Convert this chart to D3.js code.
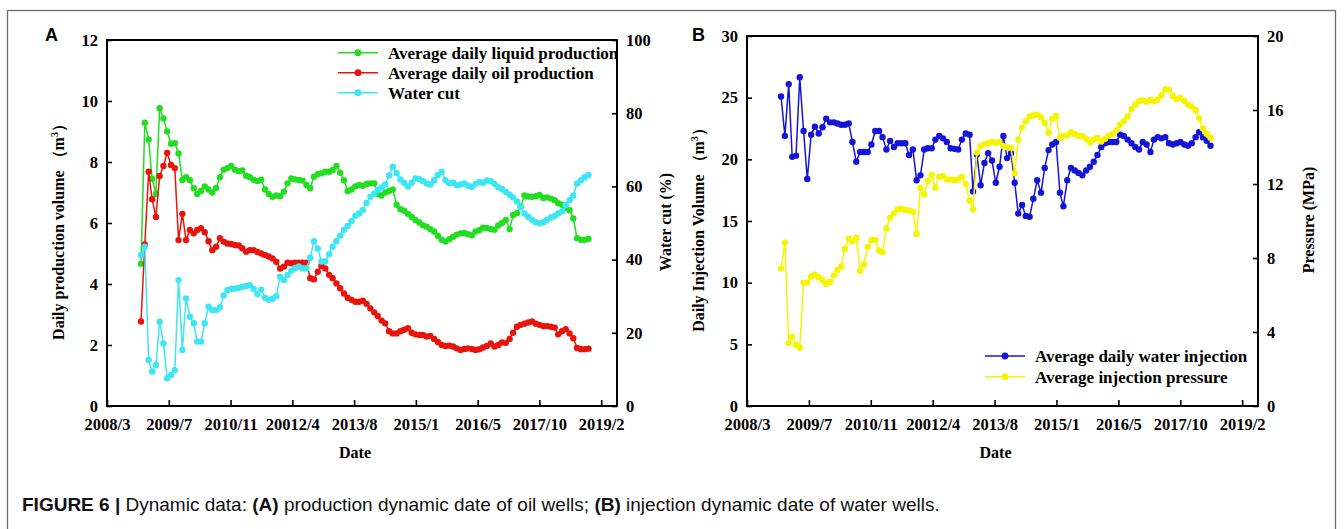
<!DOCTYPE html>
<html>
<head>
<meta charset="utf-8">
<script src="https://cdn.jsdelivr.net/npm/d3@7"></script>
<style>
  html, body { margin: 0; padding: 0; background: #fff; }
  svg { display: block; }
</style>
</head>
<body>
<svg id="fig" width="1344" height="529"></svg>
<script>
// ---- shared date axis: ticks every 500 days, labels as printed ----
const tickDates = ["2008-03-01", "2009-07-14", "2010-11-26", "2012-04-09", "2013-08-22",
                   "2015-01-04", "2016-05-18", "2017-09-30", "2019-02-12"];
const tickLabels = ["2008/3", "2009/7", "2010/11", "20012/4", "2013/8",
                    "2015/1", "2016/5", "2017/10", "2019/2"];
const axisStart = "2008-03-01";
const axisEnd = "2019-06-20";

// ---- (A) oil wells: monthly records from 2008-12 ----
const productionStart = "2008-12-01";
const liquidProduction = [
  4.66, 9.29, 8.74, 7.45, 6.95, 9.76, 9.43, 9.0, 8.6, 8.62, 8.28,
  7.41, 7.5, 7.4, 7.14, 6.95, 7.05, 7.2, 7.1, 7.0, 7.15,
  7.5, 7.75, 7.8, 7.87, 7.75, 7.7, 7.72, 7.55, 7.5, 7.42,
  7.38, 7.42, 7.1, 6.95, 6.86, 6.9, 6.88, 7.03, 7.3, 7.46,
  7.43, 7.41, 7.39, 7.25, 7.14, 7.52, 7.6, 7.63, 7.68, 7.68,
  7.74, 7.87, 7.65, 7.4, 7.05, 7.1, 7.2, 7.25,
  7.22, 7.28, 7.3, 7.3, 6.95, 6.9, 7.0, 7.05, 7.1, 6.6,
  6.45, 6.4, 6.3, 6.2, 6.1, 6.02, 5.93, 5.88, 5.8, 5.72,
  5.58, 5.45, 5.39, 5.47, 5.55, 5.62, 5.66, 5.67, 5.63, 5.6,
  5.72, 5.76, 5.85, 5.84, 5.8, 5.78, 5.92, 6.0, 6.1, 5.8,
  6.26, 6.32, 6.54, 6.9, 6.87, 6.86, 6.88, 6.92, 6.82, 6.84,
  6.8, 6.75, 6.65, 6.6, 6.5, 6.42, 6.15, 5.5, 5.45, 5.45, 5.48
];
const oilProduction = [
  2.77, 5.3, 7.68, 6.78, 6.2, 7.54, 7.87, 8.3, 7.9, 7.8, 5.44,
  6.3, 5.44, 5.77, 5.66, 5.77, 5.83, 5.7, 5.4, 5.11, 5.22,
  5.5, 5.39, 5.33, 5.31, 5.28, 5.26, 5.17, 5.06, 5.11, 5.11,
  5.05, 5.0, 4.95, 4.9, 4.84, 4.73, 4.51, 4.57, 4.7, 4.68,
  4.7, 4.7, 4.7, 4.7, 4.19, 4.15, 4.4, 4.59, 4.51, 4.3,
  4.19, 4.02, 3.86, 3.69, 3.55, 3.48, 3.42, 3.42,
  3.45, 3.35, 3.2, 3.07, 2.95, 2.8, 2.71, 2.45, 2.38, 2.38,
  2.45, 2.5, 2.55, 2.4, 2.35, 2.33, 2.33, 2.28, 2.3, 2.2,
  2.1, 2.0, 1.97, 1.98, 1.95, 1.89, 1.84, 1.87, 1.89, 1.87,
  1.84, 1.86, 1.92, 1.97, 2.05, 1.95, 2.0, 2.08, 2.07, 2.2,
  2.4, 2.6, 2.66, 2.7, 2.74, 2.77, 2.7, 2.66, 2.62, 2.62,
  2.6, 2.57, 2.35, 2.45, 2.52, 2.38, 2.22, 1.9, 1.86, 1.86, 1.88
];
const waterCut = [
  41.3, 43.5, 12.6, 9.4, 11.2, 23.0, 17.1, 7.6, 8.5, 9.8, 34.4,
  15.3, 29.4, 24.4, 22.6, 17.6, 17.6, 22.6, 27.1, 26.2, 26.2,
  27.0, 30.2, 31.7, 32.0, 32.1, 32.3, 32.6, 32.8, 33.0, 32.0, 30.6,
  31.8, 29.6, 29.0, 29.3, 30.0, 35.3, 34.4, 35.8, 37.0, 37.7, 38.1, 37.6,
  37.6, 40.5, 45.0, 43.0, 39.5, 39.5, 41.5, 43.5, 45.0, 46.5, 48.1, 49.2, 50.5, 52.0, 52.6,
  53.5, 55.5, 57.2, 58.0, 59.0, 59.7, 60.5, 63.0, 65.4, 63.6,
  61.9, 61.0, 60.0, 61.0, 62.2, 62.0, 61.5, 60.8, 60.5, 61.7,
  63.1, 64.0, 61.7, 60.9, 61.0, 60.3, 60.5, 60.8, 60.2, 59.9,
  60.7, 61.2, 61.0, 61.6, 61.4, 60.7, 59.8, 59.3, 58.5, 57.7,
  57.0, 55.9, 54.3, 52.6, 51.7, 50.9, 50.2, 49.9, 50.2, 50.9,
  51.5, 51.9, 52.6, 53.2, 54.9, 56.2, 57.5, 60.8, 61.7, 62.5, 63.1
];

// ---- (B) water wells: monthly records from 2008-12 ----
const injectionStart = "2008-12-01";
const waterInjection = [
  25.1, 21.9, 26.1, 20.2, 20.3, 26.65, 22.3, 18.4, 22.0, 22.65,
  22.1, 22.6, 23.3, 23.0, 23.0, 22.9, 22.8, 22.8, 22.9, 21.4,
  19.8, 20.6, 20.6, 20.6, 21.2, 22.3, 22.3, 21.8, 20.8, 21.5,
  21.0, 21.3, 21.3, 21.3, 20.35, 20.8, 18.3, 18.7, 20.8, 20.9,
  20.9, 21.6, 21.9, 21.7, 21.4, 20.9, 20.85, 20.8, 21.6, 22.1,
  22.0, 17.4, 20.4, 17.9, 19.7, 20.5, 19.9, 18.1, 19.4, 21.9,
  20.1, 20.5, 18.1, 15.6, 16.3, 15.4, 15.35, 16.8, 18.3, 17.3,
  19.3, 20.75, 21.2, 21.4, 17.3, 16.2, 18.3, 19.3, 19.1, 18.9,
  18.7, 19.1, 19.4, 19.8, 20.35, 21.0, 21.3, 21.4, 21.4, 21.4,
  22.0, 21.9, 21.6, 21.3, 21.0, 20.8, 21.4, 21.2, 20.6, 21.6,
  21.8, 21.7, 21.8, 21.3, 21.2, 21.3, 21.4, 21.2, 21.1, 21.3,
  21.8, 22.2, 21.8, 21.5, 21.1
];
const injectionPressure = [
  7.44, 8.83, 3.4, 3.75, 3.3, 3.15, 6.67, 6.67, 7.0, 7.1,
  6.95, 6.8, 6.6, 6.7, 7.05, 7.35, 7.55, 8.5, 9.05, 8.9,
  9.1, 7.3, 7.65, 8.6, 8.97, 8.97, 8.4, 8.32, 9.6, 10.18,
  10.42, 10.63, 10.65, 10.6, 10.57, 10.5, 9.3, 11.8, 11.45, 12.16,
  12.5, 11.8, 12.4, 12.43, 12.25, 12.25, 12.2, 12.25, 12.4, 12.0,
  11.1, 10.63, 13.7, 14.05, 14.15, 14.2, 14.27, 14.23, 14.27, 14.05,
  13.98, 13.96, 12.58, 14.4, 15.05, 15.4, 15.65, 15.72, 15.75, 15.6,
  15.3, 14.77, 15.53, 15.68, 14.5, 14.6, 14.63, 14.8, 14.7, 14.6,
  14.6, 14.45, 14.25, 14.4, 14.5, 14.3, 14.45, 14.6, 14.7, 14.9,
  15.2, 15.4, 15.65, 16.05, 16.3, 16.47, 16.53, 16.45, 16.55, 16.5,
  16.55, 16.8, 17.12, 17.1, 16.76, 16.6, 16.65, 16.5, 16.3, 16.18,
  16.0, 15.55, 15.0, 14.72, 14.5
];

// ---- styling ----
const SERIF = "'Liberation Serif', 'Times New Roman', serif";
const SANS = "'Liberation Sans', Arial, Helvetica, sans-serif";
const COLORS = { liquid: "#22dd22", oil: "#e8140c", cut: "#3de6f2", inj: "#1414d6", press: "#f5f500" };

const svg = d3.select("#fig");
const parse = d3.utcParse("%Y-%m-%d");

function monthly(start, values) {
  const t0 = parse(start);
  return values.map((v, i) => ({ date: d3.utcMonth.offset(t0, i), v }));
}

// outer figure frame
svg.append("rect")
  .attr("x", 7.5).attr("y", 10.5).attr("width", 1328).attr("height", 540)
  .attr("fill", "none").attr("stroke", "#6d6d6d").attr("stroke-width", 1.3);

function drawPanel(cfg) {
  const { left, right, top, bottom } = cfg.box;
  const x = d3.scaleUtc().domain([parse(axisStart), parse(axisEnd)]).range([left, right]);
  const yL = d3.scaleLinear().domain(cfg.leftDomain).range([bottom, top]);
  const yR = d3.scaleLinear().domain(cfg.rightDomain).range([bottom, top]);
  const g = svg.append("g");

  // axes (ticks point inward)
  const xAxis = d3.axisBottom(x)
    .tickValues(tickDates.map(parse))
    .tickFormat((d, i) => tickLabels[i])
    .tickSizeInner(-6).tickSizeOuter(0).tickPadding(12);
  const lAxis = d3.axisLeft(yL).tickValues(cfg.leftTicks)
    .tickSizeInner(-5).tickSizeOuter(0).tickPadding(9);
  const rAxis = d3.axisRight(yR).tickValues(cfg.rightTicks)
    .tickSizeInner(-5).tickSizeOuter(0).tickPadding(9);

  const styleAxis = sel => {
    sel.select(".domain").remove();
    sel.selectAll(".tick line").attr("stroke", "#000").attr("stroke-width", 1.6);
    sel.selectAll(".tick text")
      .attr("fill", "#000")
      .style("font-family", SERIF).style("font-weight", "bold").style("font-size", "16.5px");
  };
  g.append("g").attr("transform", `translate(0,${bottom})`).call(xAxis).call(styleAxis);
  g.append("g").attr("transform", `translate(${left},0)`).call(lAxis).call(styleAxis);
  g.append("g").attr("transform", `translate(${right},0)`).call(rAxis).call(styleAxis);

  // series
  cfg.series.forEach(s => {
    const y = s.axis === "right" ? yR : yL;
    const line = d3.line().x(d => x(d.date)).y(d => y(d.v));
    const sg = g.append("g");
    sg.append("path").datum(s.data)
      .attr("d", line).attr("fill", "none")
      .attr("stroke", s.color).attr("stroke-width", 1.5).attr("stroke-linejoin", "round");
    sg.selectAll("circle").data(s.data).join("circle")
      .attr("cx", d => x(d.date)).attr("cy", d => y(d.v))
      .attr("r", 3.2).attr("fill", s.color);
  });

  // plot frame
  g.append("rect")
    .attr("x", left).attr("y", top).attr("width", right - left).attr("height", bottom - top)
    .attr("fill", "none").attr("stroke", "#000").attr("stroke-width", 2);

  // legend
  const lg = g.append("g");
  cfg.series.forEach((s, i) => {
    const ly = cfg.legend.y + i * cfg.legend.dy;
    const lx = cfg.legend.x;
    lg.append("line").attr("x1", lx).attr("x2", lx + 40).attr("y1", ly).attr("y2", ly)
      .attr("stroke", s.color).attr("stroke-width", 1.6);
    lg.append("circle").attr("cx", lx + 20).attr("cy", ly).attr("r", 3.4).attr("fill", s.color);
    lg.append("text").attr("x", lx + 50).attr("y", ly + 6)
      .style("font-family", SERIF).style("font-weight", "bold").style("font-size", cfg.legend.size)
      .text(s.name);
  });

  // axis titles
  const title = (tx, ty, parts) => {
    const t = g.append("text").attr("transform", `translate(${tx},${ty}) rotate(-90)`)
      .attr("text-anchor", "middle")
      .style("font-family", SERIF).style("font-weight", "bold").style("font-size", "16px");
    parts.forEach(p => {
      const ts = t.append("tspan").text(p.t);
      if (p.sup) ts.attr("dy", -6).style("font-size", "10px");
      if (p.after) ts.attr("dy", 6);
    });
  };
  title(cfg.leftTitle.x, cfg.leftTitle.y, cfg.leftTitle.parts);
  title(cfg.rightTitle.x, cfg.rightTitle.y, [{ t: cfg.rightTitle.text }]);

  g.append("text").attr("x", (left + right) / 2 - 7).attr("y", 458).attr("text-anchor", "middle")
    .style("font-family", SERIF).style("font-weight", "bold").style("font-size", "16px")
    .text("Date");

  g.append("text").attr("x", cfg.letter.x).attr("y", 41)
    .style("font-family", SANS).style("font-weight", "bold").style("font-size", "18px")
    .text(cfg.letter.t);
}

drawPanel({
  box: { left: 107, right: 617, top: 40, bottom: 406 },
  leftDomain: [0, 12], leftTicks: [0, 2, 4, 6, 8, 10, 12],
  rightDomain: [0, 100], rightTicks: [0, 20, 40, 60, 80, 100],
  series: [
    { name: "Average daily liquid production", color: COLORS.liquid, axis: "left", data: monthly(productionStart, liquidProduction) },
    { name: "Average daily oil production", color: COLORS.oil, axis: "left", data: monthly(productionStart, oilProduction) },
    { name: "Water cut", color: COLORS.cut, axis: "right", data: monthly(productionStart, waterCut) }
  ],
  legend: { x: 338, y: 52.7, dy: 20, size: "17px" },
  leftTitle: { x: 64, y: 228, parts: [{ t: "Daily production volume （m" }, { t: "3", sup: true }, { t: "）", after: true }] },
  rightTitle: { x: 671, y: 222, text: "Water cut (%)" },
  letter: { x: 45, t: "A" }
});

drawPanel({
  box: { left: 747, right: 1258, top: 36, bottom: 406 },
  leftDomain: [0, 30], leftTicks: [0, 5, 10, 15, 20, 25, 30],
  rightDomain: [0, 20], rightTicks: [0, 4, 8, 12, 16, 20],
  series: [
    { name: "Average daily water injection", color: COLORS.inj, axis: "left", data: monthly(injectionStart, waterInjection) },
    { name: "Average injection pressure", color: COLORS.press, axis: "right", data: monthly(injectionStart, injectionPressure) }
  ],
  legend: { x: 985, y: 356, dy: 20.7, size: "17px" },
  leftTitle: { x: 704, y: 226, parts: [{ t: "Daily Injection Volume （m" }, { t: "3", sup: true }, { t: "）", after: true }] },
  rightTitle: { x: 1314, y: 220, text: "Pressure (MPa)" },
  letter: { x: 692, t: "B" }
});

// caption
const cap = svg.append("text").attr("x", 22).attr("y", 511)
  .style("font-family", SANS).style("font-size", "19px").attr("fill", "#111");
[["FIGURE 6 | ", true], ["Dynamic data: ", false], ["(A)", true],
 [" production dynamic date of oil wells; ", false], ["(B)", true],
 [" injection dynamic date of water wells.", false]]
  .forEach(([t, b]) => cap.append("tspan").text(t).style("font-weight", b ? "bold" : "normal"));
</script>
</body>
</html>
